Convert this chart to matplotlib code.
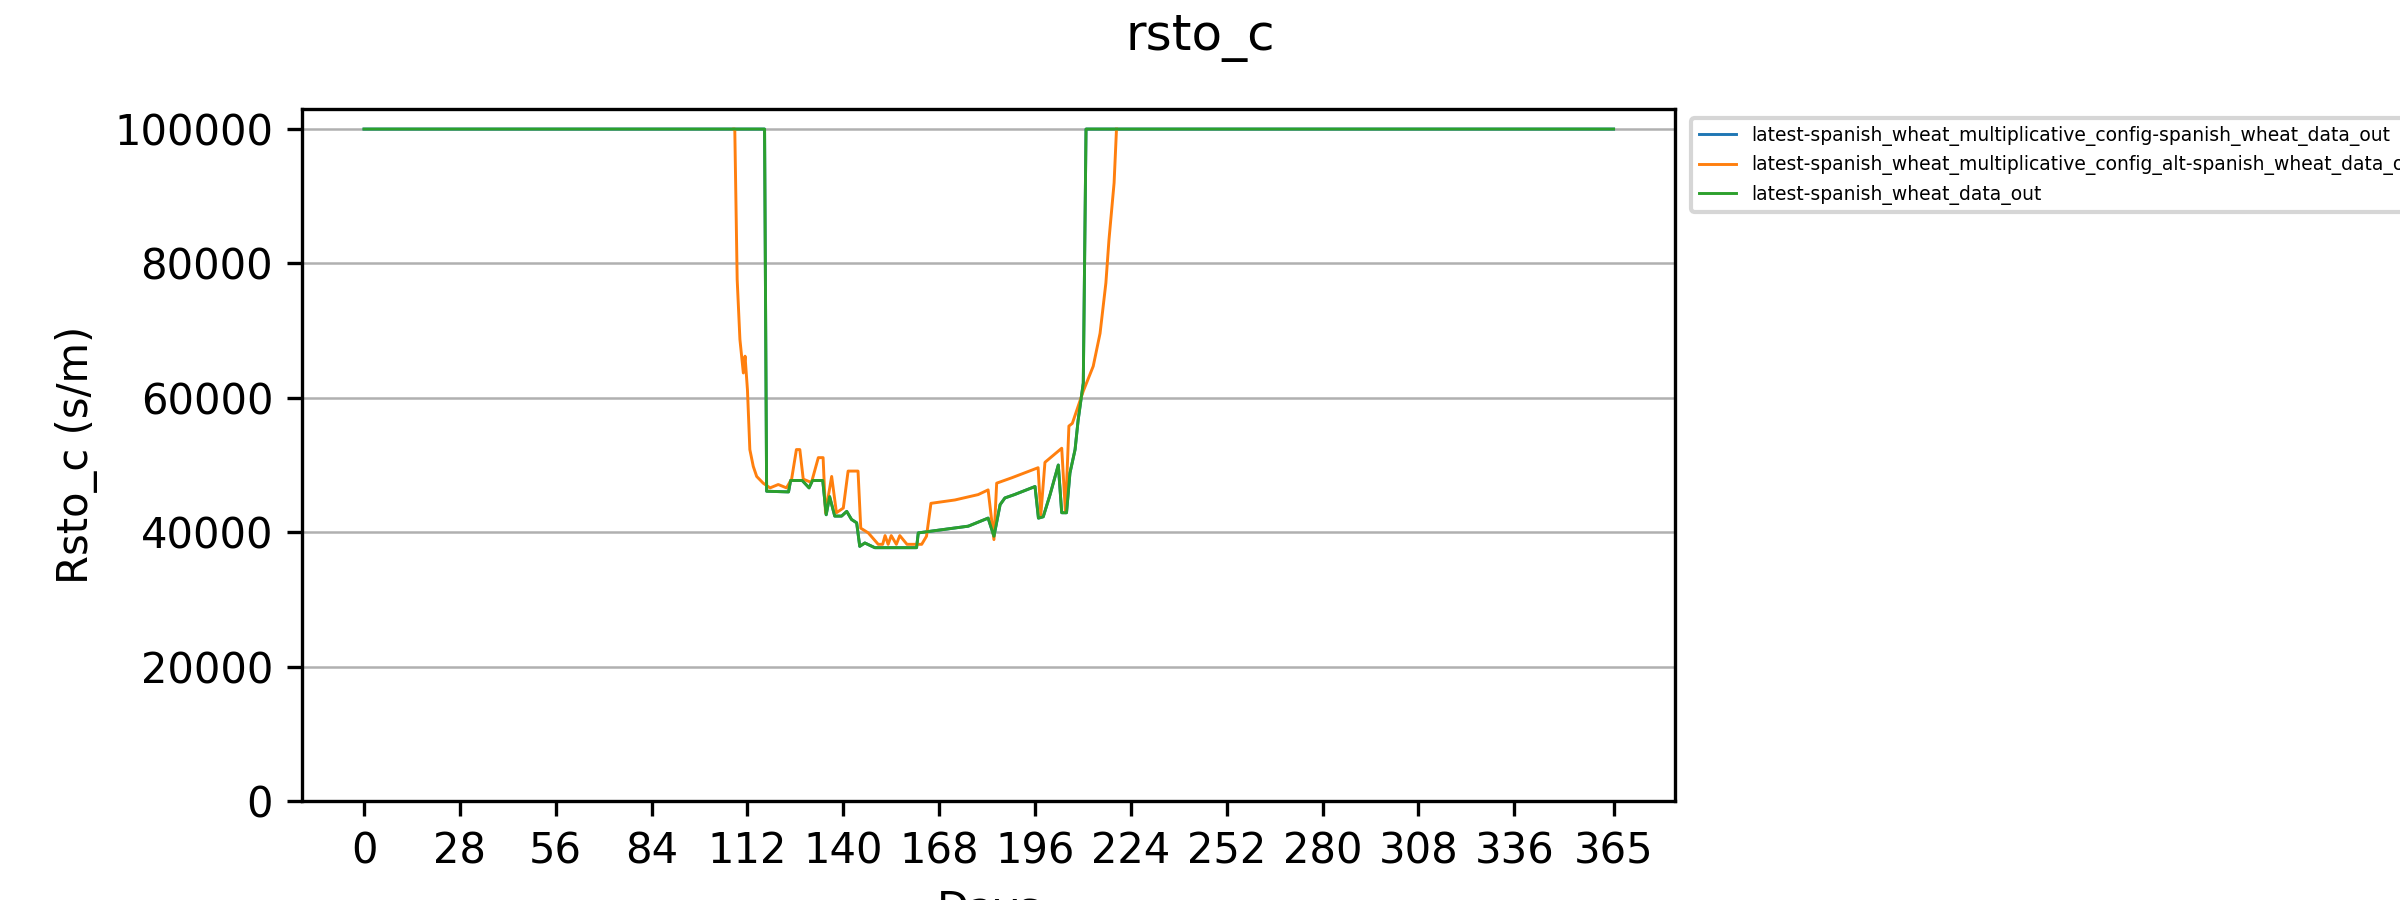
import matplotlib
matplotlib.use("Agg")
import matplotlib.pyplot as plt

# key points (day, Rsto_c)
green_days = [0, 117, 117.6, 124, 124.6, 128, 130, 131, 134, 135, 136, 137.5, 139.5, 141,
              142.4, 143.9, 144.8, 146.3, 149.2, 161.4, 161.9, 176.5, 182.3, 184, 185.8,
              187.2, 190, 196, 197, 198.4, 200.4, 202.8, 203.8, 205.2, 206.2, 207.7,
              208.6, 210.1, 210.9, 365]
green_vals = [100000, 100000, 46100, 46000, 47700, 47700, 46600, 47700, 47700, 42600, 45300,
              42400, 42400, 43100, 41900, 41400, 37900, 38400, 37700, 37700, 39900, 40900,
              42100, 39400, 44100, 45100, 45600, 46800, 42100, 42300, 45600, 50000, 42900,
              42900, 48800, 52300, 56700, 62200, 100000, 100000]

orange_days = [108, 108.3, 109, 109.8, 110.8, 111.3, 112, 112.7, 113.7, 114.7, 116.6, 118.6,
               121, 123.4, 124.9, 126.3, 127.3, 128.3, 130.7, 132.7, 134.1, 134.8, 136.6,
               138, 140, 141.4, 144.3, 145.1, 147.3, 150.2, 151.5, 152.2, 153.1, 154,
               155.5, 156.5, 158.6, 159.2, 162.9, 164.3, 165.6, 172.6, 179.4, 182.3, 184,
               184.8, 189.2, 196.9, 197.7, 198.9, 203.8, 204.9, 205.9, 206.9, 208.5, 210.1,
               213, 215, 216.7, 217.6, 219.1, 219.8]
orange_vals = [100000, 100000, 77600, 68700, 63700, 66200, 61200, 52300, 49800, 48300, 47300,
               46600, 47100, 46600, 47900, 52300, 52300, 47900, 47400, 51100, 51100, 42900,
               48300, 42900, 43600, 49100, 49100, 40600, 39900, 38200, 38200, 39500, 38200,
               39500, 38200, 39500, 38200, 38200, 38200, 39400, 44300, 44800, 45600, 46300,
               38900, 47300, 48100, 49600, 42600, 50400, 52500, 42900, 55800, 56200, 58600,
               61000, 64700, 69600, 77100, 83500, 92000, 100000]

labels = [
    "latest-spanish_wheat_multiplicative_config-spanish_wheat_data_out",
    "latest-spanish_wheat_multiplicative_config_alt-spanish_wheat_data_out",
    "latest-spanish_wheat_data_out",
]
xticks = [0, 28, 56, 84, 112, 140, 168, 196, 224, 252, 280, 308, 336, 365]

fig = plt.figure(figsize=(8, 3), dpi=300)
ax = fig.add_axes([0.126, 0.11, 0.572, 0.769])
ax.plot(green_days, green_vals, color="#1f77b4", linewidth=0.7, label=labels[0])
ax.plot(orange_days, orange_vals, color="#ff7f0e", linewidth=0.7, label=labels[1])
ax.plot(green_days, green_vals, color="#2ca02c", linewidth=0.7, label=labels[2])

ax.set_xticks(xticks)
ax.set_xlim(-18, 383)
ax.set_ylim(0, 103000)
ax.yaxis.grid(True, color="#b0b0b0", linewidth=0.6)
ax.set_xlabel("Days")
ax.set_ylabel("Rsto_c (s/m)")
fig.suptitle("rsto_c", fontsize=12, y=0.985)
ax.legend(loc="upper left", bbox_to_anchor=(1.005, 1.0), fontsize=4.5)

fig.savefig("out.png", dpi=300)
